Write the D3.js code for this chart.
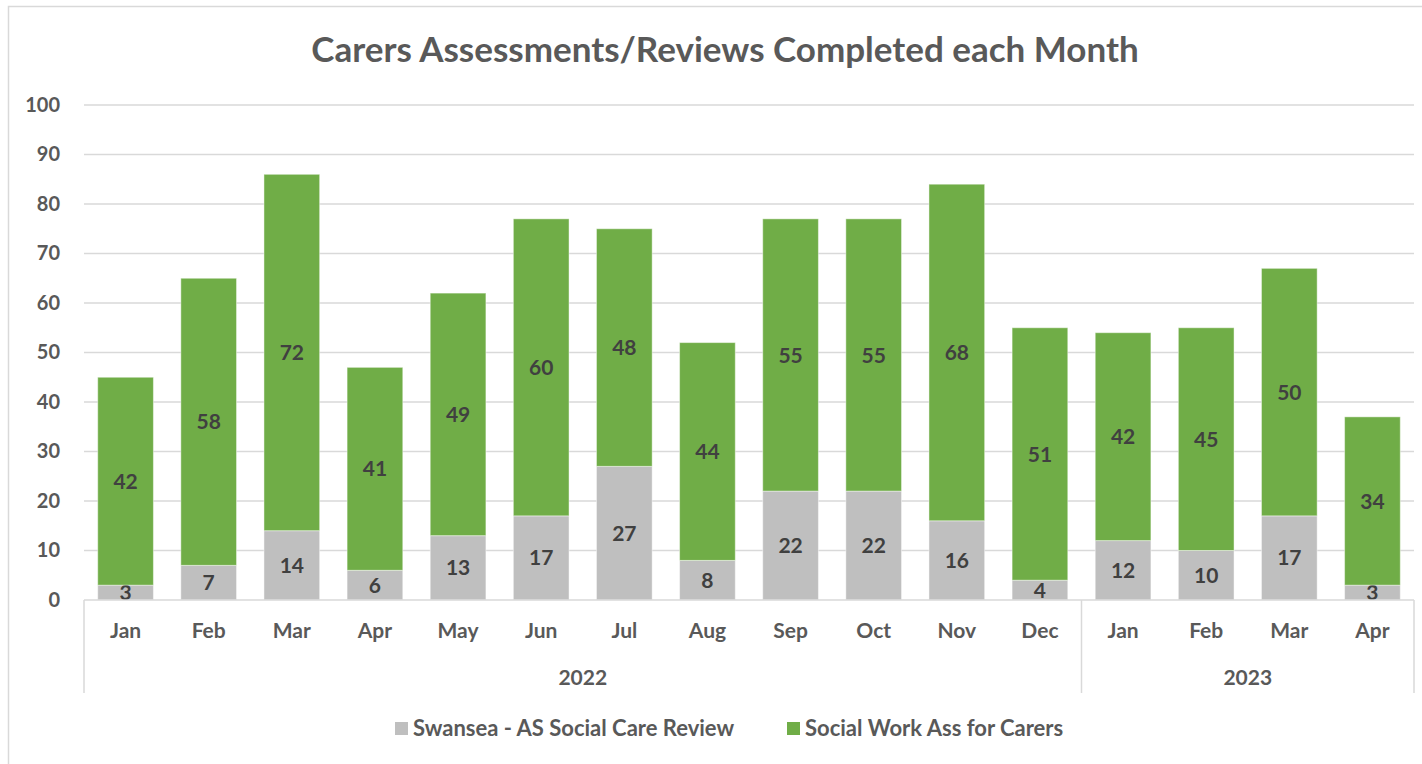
<!DOCTYPE html>
<html>
<head>
<meta charset="utf-8">
<script src="https://cdn.jsdelivr.net/npm/d3@7"></script>
<style>
    html, body { margin: 0; padding: 0; background: #fff; }
    svg { display: block; font-family: Lato, 'Open Sans', sans-serif; }
</style>
</head>
<body>
<div id="chart"></div>
<script>
const months = ['Jan', 'Feb', 'Mar', 'Apr', 'May', 'Jun', 'Jul', 'Aug', 'Sep', 'Oct', 'Nov', 'Dec', 'Jan', 'Feb', 'Mar', 'Apr'];
const years = [
    { label: '2022', from: 0, to: 11 },
    { label: '2023', from: 12, to: 15 }
];
const reviewValues = [3, 7, 14, 6, 13, 17, 27, 8, 22, 22, 16, 4, 12, 10, 17, 3];
const assessValues = [42, 58, 72, 41, 49, 60, 48, 44, 55, 55, 68, 51, 42, 45, 50, 34];
const seriesNames = ['Swansea - AS Social Care Review', 'Social Work Ass for Carers'];
const seriesColors = ['#bfbfbf', '#70ad47'];
const yTicks = [0, 10, 20, 30, 40, 50, 60, 70, 80, 90, 100];

const WIDTH = 1422;
const HEIGHT = 764;
const MARGIN = { top: 105, right: 8, bottom: 164, left: 84 };
const TEXT_COLOR = '#595959';
const LABEL_COLOR = '#404040';
const GRID_COLOR = '#d9d9d9';

const svg = d3.select('#chart').append('svg')
    .attr('width', WIDTH)
    .attr('height', HEIGHT);

// chart area border (cropped on the right and bottom)
svg.append('rect')
    .attr('x', 8.5).attr('y', 6.5)
    .attr('width', WIDTH + 20).attr('height', HEIGHT + 20)
    .attr('fill', '#fff')
    .attr('stroke', GRID_COLOR)
    .attr('stroke-width', 1.5);

svg.append('text')
    .attr('x', 725)
    .attr('y', 62)
    .attr('text-anchor', 'middle')
    .attr('font-size', 35)
    .attr('font-weight', 'bold')
    .attr('fill', TEXT_COLOR)
    .text('Carers Assessments/Reviews Completed each Month');

const x = d3.scaleBand()
    .domain(d3.range(months.length))
    .range([MARGIN.left, WIDTH - MARGIN.right])
    .paddingInner(0.33)
    .paddingOuter(0.165);

const y = d3.scaleLinear()
    .domain([0, 100])
    .range([HEIGHT - MARGIN.bottom, MARGIN.top]);

// gridlines
svg.append('g')
    .selectAll('line')
    .data(yTicks.slice(1))
    .join('line')
    .attr('x1', MARGIN.left)
    .attr('x2', WIDTH - MARGIN.right)
    .attr('y1', d => y(d))
    .attr('y2', d => y(d))
    .attr('stroke', GRID_COLOR)
    .attr('stroke-width', 1.5);

// y axis labels
const yAxis = svg.append('g')
    .attr('transform', `translate(${MARGIN.left - 24}, 0)`)
    .call(d3.axisLeft(y).tickValues(yTicks).tickSize(0).tickPadding(0));
yAxis.select('.domain').remove();
yAxis.selectAll('text')
    .attr('font-family', 'Lato, sans-serif')
    .attr('font-size', 20)
    .attr('font-weight', 'bold')
    .attr('fill', TEXT_COLOR);

// stacked bars
const rows = months.map((m, i) => ({ i, review: reviewValues[i], assess: assessValues[i] }));
const stack = d3.stack().keys(['review', 'assess'])(rows);

const layers = svg.append('g')
    .selectAll('g')
    .data(stack)
    .join('g')
    .attr('fill', (d, i) => seriesColors[i]);

layers.selectAll('rect')
    .data(d => d)
    .join('rect')
    .attr('x', d => x(d.data.i))
    .attr('width', x.bandwidth())
    .attr('y', d => y(d[1]))
    .attr('height', d => y(d[0]) - y(d[1]))
    .attr('stroke', '#fff')
    .attr('stroke-opacity', 0.45)
    .attr('stroke-width', 1);

layers.selectAll('text')
    .data(d => d)
    .join('text')
    .attr('x', d => x(d.data.i) + x.bandwidth() / 2)
    .attr('y', d => (y(d[0]) + y(d[1])) / 2)
    .attr('dy', '0.36em')
    .attr('text-anchor', 'middle')
    .attr('font-size', 21)
    .attr('font-weight', 'bold')
    .attr('fill', LABEL_COLOR)
    .text(d => d[1] - d[0]);

// category axis: months then years
const axisY = y(0);
const step = x.step();
const catLeft = i => MARGIN.left + i * step;

svg.append('line')
    .attr('x1', MARGIN.left).attr('x2', WIDTH - MARGIN.right)
    .attr('y1', axisY).attr('y2', axisY)
    .attr('stroke', GRID_COLOR).attr('stroke-width', 1.5);

const dividers = [0, ...years.map(yr => yr.to + 1)];
svg.append('g')
    .selectAll('line')
    .data(dividers)
    .join('line')
    .attr('x1', d => catLeft(d)).attr('x2', d => catLeft(d))
    .attr('y1', axisY).attr('y2', axisY + 93)
    .attr('stroke', GRID_COLOR).attr('stroke-width', 1.5);

svg.append('g')
    .selectAll('text')
    .data(months)
    .join('text')
    .attr('x', (d, i) => x(i) + x.bandwidth() / 2)
    .attr('y', axisY + 38)
    .attr('text-anchor', 'middle')
    .attr('font-size', 21)
    .attr('font-weight', 'bold')
    .attr('fill', TEXT_COLOR)
    .text(d => d);

svg.append('g')
    .selectAll('text')
    .data(years)
    .join('text')
    .attr('x', d => (catLeft(d.from) + catLeft(d.to + 1)) / 2)
    .attr('y', axisY + 85)
    .attr('text-anchor', 'middle')
    .attr('font-size', 21)
    .attr('font-weight', 'bold')
    .attr('fill', TEXT_COLOR)
    .text(d => d.label);

// legend
const legendX = [395, 787];
const legend = svg.append('g')
    .selectAll('g')
    .data(seriesNames)
    .join('g')
    .attr('transform', (d, i) => `translate(${legendX[i]}, 722)`);

legend.append('rect')
    .attr('width', 13).attr('height', 13)
    .attr('fill', (d, i) => seriesColors[i]);

legend.append('text')
    .attr('x', 18)
    .attr('y', 14)
    .attr('font-size', 22)
    .attr('font-weight', 'bold')
    .attr('fill', TEXT_COLOR)
    .text(d => d);
</script>
</body>
</html>
